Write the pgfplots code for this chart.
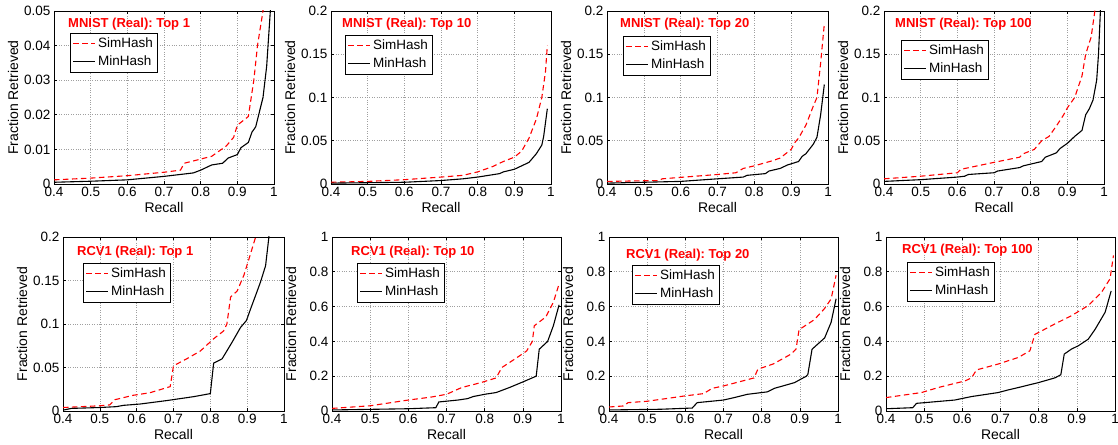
\documentclass[border=0pt]{standalone}
\usepackage{fontspec}
\setmainfont{Liberation Sans}
\usepackage{pgfplots}
\pgfplotsset{compat=1.18}
\frenchspacing
\newcommand{\tf}{\fontsize{13}{15}\selectfont\bfseries}
\newcommand{\lf}{\fontsize{13.5}{16}\selectfont}

\pgfplotsset{
  panel/.style={
    scale only axis,
    xmin=0.4, xmax=1, ymin=0,
    xtick={0.4,0.5,0.6,0.7,0.8,0.9,1},
    grid=major,
    grid style={dotted, gray!75, line width=0.6pt},
    tick align=inside,
    major tick length=3pt,
    axis line style={line width=0.8pt},
    tick style={black, line width=0.6pt},
    ticklabel style={font=\fontsize{13.5}{16}\selectfont},
    /pgf/number format/assume math mode=true,
    /pgf/number format/fixed,
    scaled ticks=false,
    label style={font=\fontsize{14}{16}\selectfont},
    xlabel={Recall},
    ylabel={Fraction Retrieved},
    xlabel style={at={([yshift=-23pt]axis description cs:0.5,0)}, anchor=center},
    ylabel style={at={([xshift=-41pt]axis description cs:0,0.5)}, anchor=center},
    every axis title/.style={anchor=west, inner sep=0pt, text=red},
    legend cell align=left,
    legend style={anchor=north west, draw=black, fill=white, line width=0.8pt,
      row sep=2pt, inner xsep=2pt, inner ysep=2pt,
      nodes={inner sep=2.5pt}},
    legend image code/.code={\draw[#1, line width=1.3pt] (0pt,0pt) -- (22pt,0pt);},
  },
  sim/.style={red, line width=1.1pt, dash pattern=on 5.5pt off 3.5pt},
  mh/.style={black, line width=1.1pt},
}

\begin{document}
\begin{tikzpicture}
\useasboundingbox (0,0) rectangle (1118pt,444pt);

% ---------------- Top row ----------------
\begin{axis}[panel, at={(54pt,260pt)}, anchor=south west, width=220pt, height=173pt,
  ymax=0.05, ytick={0,0.01,0.02,0.03,0.04,0.05},
  title={\tf MNIST (Real): Top 1},
  title style={at={([xshift=14pt,yshift=-13.5pt]axis description cs:0,1)}},
  legend style={at={([xshift=16pt,yshift=-22pt]axis description cs:0,1)}}]
\addplot[sim] coordinates {(0.4,0.0012)(0.5,0.0017)(0.6,0.0024)(0.7,0.0034)(0.745,0.004)(0.755,0.006)(0.8,0.0072)(0.83,0.008)(0.85,0.0095)(0.87,0.011)(0.89,0.0135)(0.9,0.017)(0.93,0.0195)(0.945,0.03)(0.955,0.04)(0.97,0.05)(0.975,0.06)};
\addplot[mh] coordinates {(0.4,0.0005)(0.5,0.0008)(0.6,0.0012)(0.7,0.0022)(0.78,0.0032)(0.8,0.004)(0.83,0.0055)(0.86,0.006)(0.875,0.0075)(0.9,0.0085)(0.91,0.0105)(0.93,0.012)(0.94,0.015)(0.95,0.0165)(0.97,0.025)(0.98,0.034)(0.99,0.05)(0.992,0.055)};
\legend{{\lf SimHash},{\lf MinHash}}
\end{axis}

\begin{axis}[panel, at={(331pt,260pt)}, anchor=south west, width=220pt, height=173pt,
  ymax=0.2, ytick={0,0.05,0.1,0.15,0.2},
  title={\tf MNIST (Real): Top 10},
  title style={at={([xshift=11pt,yshift=-13.5pt]axis description cs:0,1)}},
  legend style={at={([xshift=14pt,yshift=-24pt]axis description cs:0,1)}}]
\addplot[sim] coordinates {(0.4,0.002)(0.5,0.003)(0.6,0.005)(0.7,0.008)(0.76,0.01)(0.8,0.014)(0.84,0.02)(0.87,0.026)(0.9,0.031)(0.92,0.038)(0.94,0.053)(0.96,0.075)(0.975,0.1)(0.985,0.13)(0.99,0.16)};
\addplot[mh] coordinates {(0.4,0.001)(0.6,0.002)(0.7,0.004)(0.76,0.006)(0.8,0.008)(0.83,0.01)(0.86,0.012)(0.87,0.014)(0.9,0.017)(0.94,0.025)(0.96,0.035)(0.975,0.045)(0.98,0.055)(0.99,0.087)};
\legend{{\lf SimHash},{\lf MinHash}}
\end{axis}

\begin{axis}[panel, at={(607pt,260pt)}, anchor=south west, width=221pt, height=173pt,
  ymax=0.2, ytick={0,0.05,0.1,0.15,0.2},
  title={\tf MNIST (Real): Top 20},
  title style={at={([xshift=13pt,yshift=-13.5pt]axis description cs:0,1)}},
  legend style={at={([xshift=16pt,yshift=-25pt]axis description cs:0,1)}}]
\addplot[sim] coordinates {(0.4,0.003)(0.54,0.004)(0.55,0.006)(0.7,0.011)(0.75,0.013)(0.77,0.018)(0.8,0.021)(0.85,0.027)(0.87,0.03)(0.9,0.04)(0.91,0.048)(0.92,0.053)(0.94,0.068)(0.96,0.09)(0.97,0.1)(0.98,0.14)(0.99,0.185)};
\addplot[mh] coordinates {(0.4,0.001)(0.6,0.003)(0.7,0.006)(0.77,0.008)(0.78,0.01)(0.83,0.012)(0.84,0.015)(0.87,0.018)(0.89,0.022)(0.92,0.026)(0.93,0.032)(0.94,0.035)(0.96,0.046)(0.97,0.054)(0.98,0.08)(0.99,0.115)};
\legend{{\lf SimHash},{\lf MinHash}}
\end{axis}

\begin{axis}[panel, at={(884pt,260pt)}, anchor=south west, width=220pt, height=173pt,
  ymax=0.2, ytick={0,0.05,0.1,0.15,0.2},
  title={\tf MNIST (Real): Top 100},
  title style={at={([xshift=11pt,yshift=-13.5pt]axis description cs:0,1)}},
  legend style={at={([xshift=17pt,yshift=-29pt]axis description cs:0,1)}}]
\addplot[sim] coordinates {(0.4,0.006)(0.5,0.009)(0.6,0.013)(0.61,0.017)(0.7,0.025)(0.77,0.031)(0.78,0.035)(0.81,0.04)(0.83,0.05)(0.85,0.055)(0.87,0.067)(0.89,0.08)(0.9,0.088)(0.92,0.1)(0.94,0.125)(0.95,0.15)(0.965,0.17)(0.975,0.2)(0.977,0.21)};
\addplot[mh] coordinates {(0.4,0.003)(0.5,0.005)(0.6,0.008)(0.62,0.009)(0.63,0.011)(0.7,0.013)(0.71,0.015)(0.77,0.019)(0.78,0.021)(0.83,0.026)(0.84,0.031)(0.87,0.036)(0.88,0.041)(0.9,0.047)(0.92,0.055)(0.94,0.062)(0.95,0.08)(0.96,0.087)(0.97,0.097)(0.98,0.12)(0.985,0.15)(0.99,0.198)(0.991,0.21)};
\legend{{\lf SimHash},{\lf MinHash}}
\end{axis}

% ---------------- Bottom row ----------------
\begin{axis}[panel, at={(63pt,33pt)}, anchor=south west, width=221pt, height=174pt,
  ymax=0.2, ytick={0,0.05,0.1,0.15,0.2},
  title={\tf RCV1 (Real): Top 1},
  title style={at={([xshift=14pt,yshift=-15pt]axis description cs:0,1)}},
  legend style={at={([xshift=20pt,yshift=-26pt]axis description cs:0,1)}}]
\addplot[sim] coordinates {(0.4,0.004)(0.5,0.006)(0.527,0.007)(0.541,0.013)(0.59,0.018)(0.636,0.021)(0.691,0.028)(0.70,0.052)(0.736,0.060)(0.773,0.069)(0.809,0.083)(0.836,0.092)(0.845,0.10)(0.855,0.131)(0.873,0.138)(0.891,0.156)(0.905,0.175)(0.923,0.2)(0.93,0.215)};
\addplot[mh] coordinates {(0.4,0.001)(0.423,0.003)(0.5,0.004)(0.545,0.005)(0.564,0.0065)(0.609,0.008)(0.682,0.012)(0.755,0.0165)(0.8,0.02)(0.809,0.055)(0.832,0.06)(0.859,0.079)(0.882,0.096)(0.898,0.104)(0.909,0.117)(0.923,0.133)(0.936,0.148)(0.95,0.167)(0.959,0.2)(0.962,0.22)};
\legend{{\lf SimHash},{\lf MinHash}}
\end{axis}

\begin{axis}[panel, at={(332pt,33pt)}, anchor=south west, width=229pt, height=174pt,
  ymax=1, ytick={0,0.2,0.4,0.6,0.8,1},
  title={\tf RCV1 (Real): Top 10},
  title style={at={([xshift=19pt,yshift=-15pt]axis description cs:0,1)}},
  legend style={at={([xshift=25pt,yshift=-26pt]axis description cs:0,1)}}]
\addplot[sim] coordinates {(0.4,0.015)(0.5,0.03)(0.6,0.063)(0.66,0.08)(0.7,0.096)(0.74,0.135)(0.79,0.163)(0.83,0.19)(0.845,0.25)(0.88,0.30)(0.91,0.345)(0.925,0.40)(0.93,0.49)(0.96,0.54)(0.98,0.625)(0.995,0.73)};
\addplot[mh] coordinates {(0.4,0.006)(0.6,0.013)(0.672,0.019)(0.68,0.052)(0.73,0.063)(0.755,0.071)(0.77,0.083)(0.80,0.096)(0.83,0.106)(0.865,0.135)(0.90,0.167)(0.935,0.20)(0.943,0.355)(0.965,0.40)(0.98,0.49)(0.995,0.61)};
\legend{{\lf SimHash},{\lf MinHash}}
\end{axis}

\begin{axis}[panel, at={(609pt,33pt)}, anchor=south west, width=229pt, height=174pt,
  ymax=1, ytick={0,0.2,0.4,0.6,0.8,1},
  title={\tf RCV1 (Real): Top 20},
  title style={at={([xshift=17pt,yshift=-18pt]axis description cs:0,1)}},
  legend style={at={([xshift=23pt,yshift=-28pt]axis description cs:0,1)}}]
\addplot[sim] coordinates {(0.4,0.023)(0.438,0.029)(0.45,0.048)(0.5,0.056)(0.6,0.087)(0.648,0.10)(0.67,0.13)(0.70,0.144)(0.78,0.19)(0.79,0.24)(0.83,0.27)(0.877,0.327)(0.89,0.356)(0.898,0.467)(0.938,0.525)(0.964,0.587)(0.982,0.644)(0.995,0.78)};
\addplot[mh] coordinates {(0.4,0.006)(0.535,0.01)(0.618,0.017)(0.631,0.048)(0.70,0.063)(0.728,0.077)(0.763,0.096)(0.815,0.11)(0.833,0.13)(0.886,0.163)(0.917,0.20)(0.921,0.21)(0.932,0.355)(0.965,0.42)(0.982,0.51)(0.995,0.645)};
\legend{{\lf SimHash},{\lf MinHash}}
\end{axis}

\begin{axis}[panel, at={(886pt,33pt)}, anchor=south west, width=229pt, height=174pt,
  ymax=1, ytick={0,0.2,0.4,0.6,0.8,1},
  title={\tf RCV1 (Real): Top 100},
  title style={at={([xshift=16pt,yshift=-13pt]axis description cs:0,1)}},
  legend style={at={([xshift=21pt,yshift=-25pt]axis description cs:0,1)}}]
\addplot[sim] coordinates {(0.4,0.077)(0.493,0.106)(0.537,0.135)(0.607,0.173)(0.624,0.19)(0.637,0.236)(0.694,0.27)(0.747,0.308)(0.777,0.346)(0.79,0.44)(0.842,0.50)(0.886,0.548)(0.93,0.606)(0.965,0.683)(0.987,0.76)(0.996,0.894)};
\addplot[mh] coordinates {(0.4,0.013)(0.47,0.019)(0.48,0.044)(0.58,0.063)(0.624,0.083)(0.694,0.106)(0.72,0.121)(0.747,0.135)(0.799,0.163)(0.842,0.19)(0.858,0.208)(0.867,0.327)(0.886,0.356)(0.904,0.375)(0.93,0.413)(0.948,0.47)(0.974,0.567)(0.99,0.69)};
\legend{{\lf SimHash},{\lf MinHash}}
\end{axis}
\end{tikzpicture}
\end{document}
